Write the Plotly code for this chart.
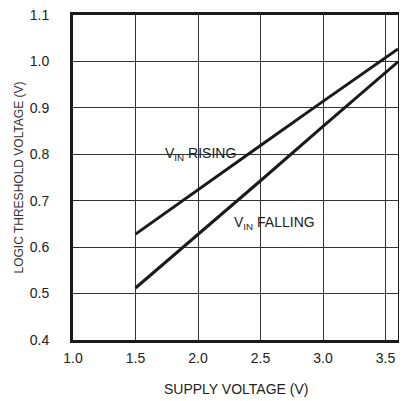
import plotly.graph_objects as go

supply_v = [1.5, 2.0, 2.5, 3.0, 3.6]
vin_rising = [0.628, 0.724, 0.819, 0.914, 1.027]
vin_falling = [0.512, 0.627, 0.743, 0.860, 0.999]

x_ticks = [1.0, 1.5, 2.0, 2.5, 3.0, 3.5]
x_tick_labels = ["1.0", "1.5", "2.0", "2.5", "3.0", "3.5"]
y_ticks = [0.4, 0.5, 0.6, 0.7, 0.8, 0.9, 1.0, 1.1]
y_tick_labels = ["0.4", "0.5", "0.6", "0.7", "0.8", "0.9", "1.0", "1.1"]

FONT = "Liberation Sans, Arial, sans-serif"
INK = "#1a1a1a"

fig = go.Figure()
fig.add_trace(go.Scatter(x=supply_v, y=vin_rising, mode="lines",
                         line=dict(color=INK, width=3), showlegend=False))
fig.add_trace(go.Scatter(x=supply_v, y=vin_falling, mode="lines",
                         line=dict(color=INK, width=3), showlegend=False))

fig.add_annotation(x=1.72, y=0.80, xref="x", yref="y", text="V<sub>IN</sub> RISING",
                   showarrow=False, xanchor="left", yanchor="middle",
                   font=dict(family=FONT, size=14, color="#222"))
fig.add_annotation(x=2.27, y=0.652, xref="x", yref="y", text="V<sub>IN</sub> FALLING",
                   showarrow=False, xanchor="left", yanchor="middle",
                   font=dict(family=FONT, size=14, color="#222"))
# side label
fig.add_annotation(x=1.0, y=1.0, xref="paper", yref="paper", text="MAX4720 toc08",
                   showarrow=False, textangle=90, xanchor="left", yanchor="top",
                   xshift=0, yshift=0,
                   font=dict(family=FONT, size=7, color="#555"))
# axis titles
fig.add_annotation(x=0.5, y=0, xref="paper", yref="paper", text="SUPPLY VOLTAGE (V)",
                   showarrow=False, xanchor="center", yanchor="middle", yshift=-49,
                   font=dict(family=FONT, size=14, color="#222"))
fig.add_annotation(x=0, y=0.5, xref="paper", yref="paper",
                   text="LOGIC THRESHOLD VOLTAGE (V)",
                   showarrow=False, textangle=-90, xanchor="center", yanchor="middle",
                   xshift=-55,
                   font=dict(family=FONT, size=12, color="#333"))

fig.update_layout(
    width=399, height=393,
    margin=dict(l=65, r=9, t=7, b=61, autoexpand=False),
    paper_bgcolor="white", plot_bgcolor="white",
    font=dict(family=FONT, size=14, color="#222"),
    xaxis=dict(range=[1.0, 3.6], tickvals=x_ticks, ticktext=x_tick_labels,
               showgrid=True, gridcolor="#333", gridwidth=1,
               showline=True, linecolor=INK, linewidth=3, mirror=True,
               ticks="", zeroline=False, automargin=False,
               ticklabelstandoff=3, ticklabeloverflow="allow",
               tickfont=dict(family=FONT, size=14, color="#222")),
    yaxis=dict(range=[0.4, 1.1], tickvals=y_ticks, ticktext=y_tick_labels,
               showgrid=True, gridcolor="#333", gridwidth=1,
               showline=True, linecolor=INK, linewidth=3, mirror=True,
               ticks="", zeroline=False, automargin=False,
               ticklabelstandoff=18, ticklabeloverflow="allow",
               tickfont=dict(family=FONT, size=14, color="#222")),
)

fig.write_html("out.html")
